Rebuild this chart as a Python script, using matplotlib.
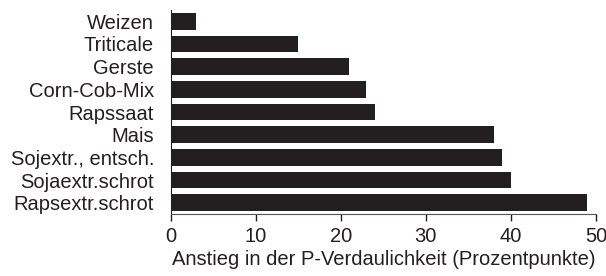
import matplotlib
matplotlib.use('Agg')
import matplotlib.pyplot as plt

categories = ['Weizen', 'Triticale', 'Gerste', 'Corn-Cob-Mix', 'Rapssaat',
              'Mais', 'Sojextr., entsch.', 'Sojaextr.schrot', 'Rapsextr.schrot']
values = [3, 15, 21, 23, 24, 38, 39, 40, 49]
xticks = [0, 10, 20, 30, 40, 50]

plt.rcParams['font.family'] = ['Liberation Sans', 'DejaVu Sans']
plt.rcParams['text.color'] = '#231f20'

fig = plt.figure(figsize=(6.06, 2.76), dpi=100)
ax = fig.add_axes([0.2817, 0.2246, 0.7018, 0.7392])

ax.barh(range(len(categories)), values, height=0.74, color='#231f20')
ax.set_yticks(range(len(categories)))
ax.set_yticklabels(categories, fontsize=14.5, color='#231f20')
ax.set_ylim(len(categories) - 0.5, -0.5)
ax.set_xlim(0, 50)
ax.set_xticks(xticks)
ax.set_xticklabels([str(t) for t in xticks], fontsize=14.5, color='#231f20')
ax.set_xlabel('Anstieg in der P-Verdaulichkeit (Prozentpunkte)', fontsize=14.5,
              labelpad=3, color='#231f20')

ax.spines['top'].set_visible(False)
ax.spines['right'].set_visible(False)
ax.spines['left'].set_color('#231f20')
ax.spines['bottom'].set_color('#555555')
ax.tick_params(axis='y', length=0, pad=12)
ax.tick_params(axis='x', direction='out', length=5, width=1, color='#231f20', pad=4)

fig.savefig('out.png', dpi=100)
